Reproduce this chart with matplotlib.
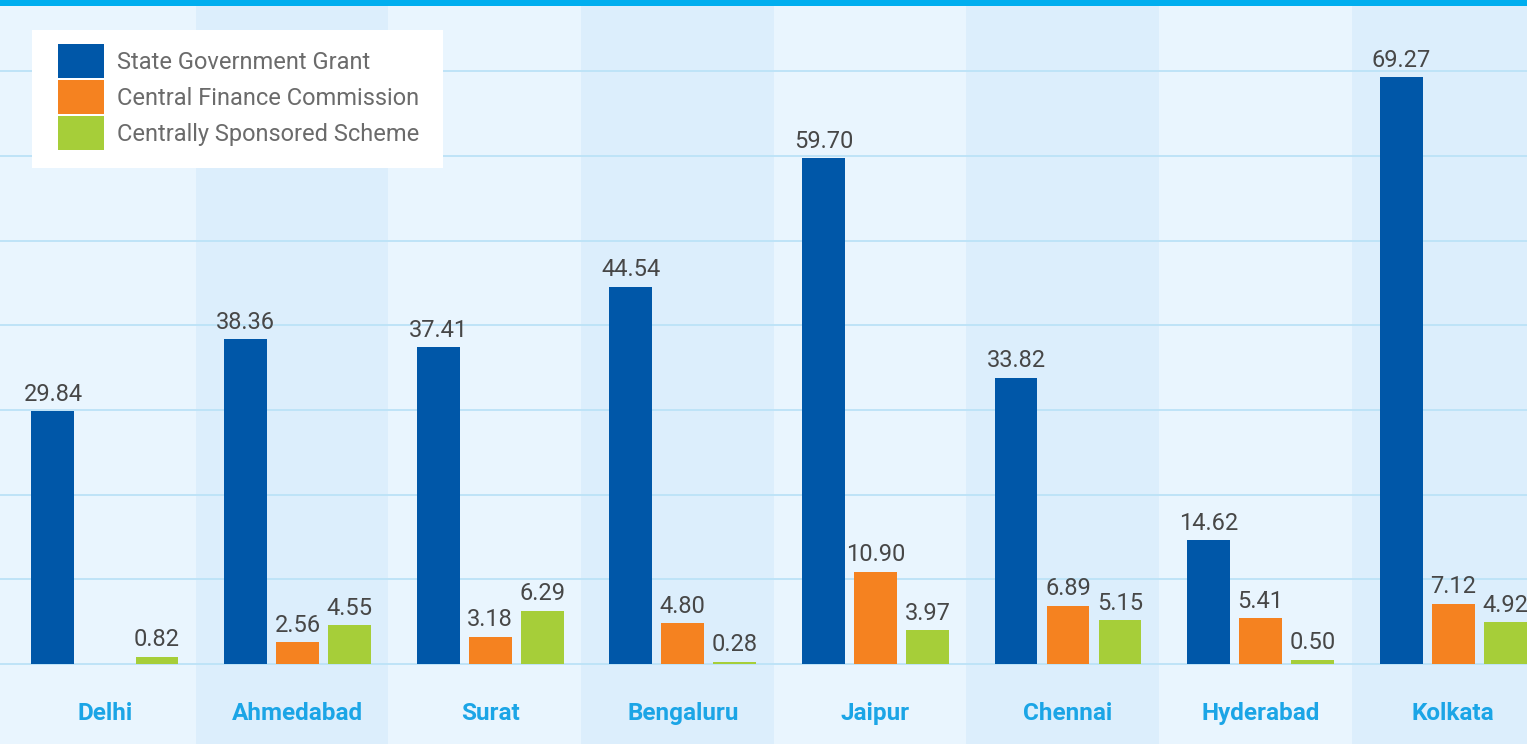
import numpy as np
import matplotlib
matplotlib.use("Agg")
import matplotlib.pyplot as plt
from matplotlib.patches import Rectangle

cities = ["Delhi", "Ahmedabad", "Surat", "Bengaluru", "Jaipur", "Chennai", "Hyderabad", "Kolkata"]
state_grant = [29.84, 38.36, 37.41, 44.54, 59.70, 33.82, 14.62, 69.27]
central_fc = [np.nan, 2.56, 3.18, 4.80, 10.90, 6.89, 5.41, 7.12]
css = [0.82, 4.55, 6.29, 0.28, 3.97, 5.15, 0.50, 4.92]

series = [
    ("State Government Grant", state_grant, "#0057A8"),
    ("Central Finance Commission", central_fc, "#F58220"),
    ("Centrally Sponsored Scheme", css, "#A6CE39"),
]

plt.rcParams["font.family"] = ["Roboto", "DejaVu Sans"]

W, H = 1527, 744
fig = plt.figure(figsize=(W / 100, H / 100), dpi=100)
ax = fig.add_axes([0, 0, 1, 1 - 6 / H])
ax.set_facecolor("#E9F5FE")

x = np.arange(len(cities))
# alternating column shading
for i in x:
    if i % 2 == 1:
        ax.axvspan(i - 0.528, i + 0.472, color="#DCEEFC", zorder=0, lw=0)

ax.set_yticks(np.arange(0, 80, 10))
ax.grid(axis="y", color="#BEE3F7", lw=1.4, zorder=1)
ax.tick_params(left=False, bottom=False, labelleft=False, labelbottom=False)
for s in ax.spines.values():
    s.set_visible(False)

width = 0.223
step = 0.27
for k, (name, vals, col) in enumerate(series):
    pos = x + (k - 1) * step
    ax.bar(pos, vals, width, color=col, label=name, zorder=3)
    for p, v in zip(pos, vals):
        if np.isnan(v):
            continue
        ax.annotate(f"{v:.2f}", (p, v), xytext=(0, 4), textcoords="offset points",
                    ha="center", va="bottom", fontsize=17, color="#474747", zorder=4)

for i, c in zip(x, cities):
    ax.text(i, -5.9, c, ha="center", va="center", fontsize=17.5,
            fontweight="bold", color="#1BA5E6")

ax.set_xlim(-0.545, 7.383)
ax.set_ylim(-9.45, 77.7)

# legend box
ax.add_patch(Rectangle((32 / W, 1 - 168 / H), (443 - 32) / W, (168 - 30) / H,
                       transform=fig.transFigure, facecolor="white",
                       edgecolor="none", zorder=5))
leg = ax.legend(loc="upper left", bbox_to_anchor=(58 / W, 1 - 44 / H),
                bbox_transform=fig.transFigure, frameon=False, borderpad=0,
                borderaxespad=0, fontsize=17, handlelength=1.95, handleheight=1.84,
                labelspacing=0.085, handletextpad=0.55)
leg.set_zorder(6)
for t in leg.get_texts():
    t.set_color("#6B6B6B")

# top strip
fig.patches.append(Rectangle((0, 1 - 6 / H), 1, 6 / H, transform=fig.transFigure,
                             facecolor="#00AEEF", edgecolor="none"))

fig.savefig("out.png", dpi=100)
